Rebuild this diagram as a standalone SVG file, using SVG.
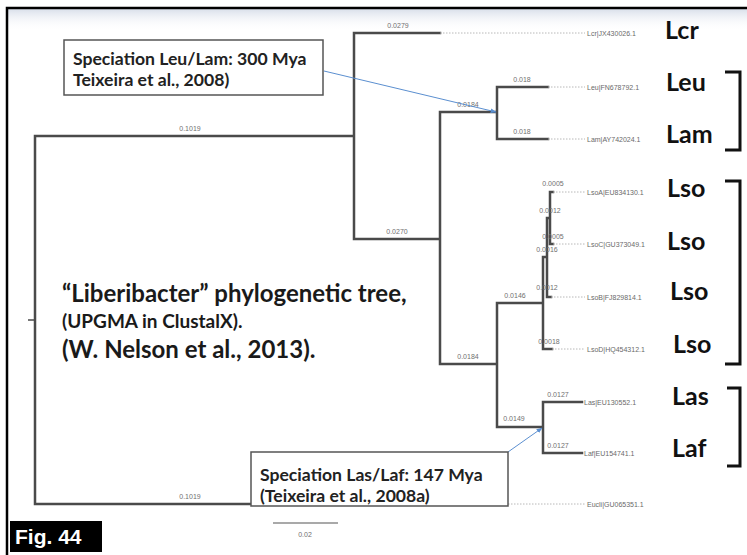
<svg xmlns="http://www.w3.org/2000/svg" width="747" height="555" viewBox="0 0 747 555">
<defs>
<linearGradient id="haze" x1="0" y1="0" x2="0" y2="1">
<stop offset="0" stop-color="#d9dfea"/>
<stop offset="1" stop-color="#ffffff" stop-opacity="0"/>
</linearGradient>
<marker id="arr" viewBox="0 0 10 10" refX="9" refY="5" markerWidth="6" markerHeight="6" orient="auto" markerUnits="userSpaceOnUse">
<path d="M0,1 L10,5 L0,9 z" fill="#5b8fd0"/>
</marker>
<style>
.br{fill:none;stroke:#4a4a4a;stroke-width:2.5;stroke-linecap:square}
.dot{fill:none;stroke:#b8b8b8;stroke-width:1;stroke-dasharray:1.5 1.5}
.bl{font-family:"Liberation Sans",Arial,sans-serif;font-size:7px;fill:#707070;text-anchor:middle}
.lf{font-family:"Liberation Sans",Arial,sans-serif;font-size:7px;fill:#6a6a6a}
.big{font-family:Lato,"Open Sans",sans-serif;font-weight:700;font-size:25px;fill:#111}
.brk{fill:none;stroke:#111;stroke-width:3}
.box{fill:#fff;stroke:#555;stroke-width:1.5}
.ann{font-family:Lato,"Open Sans",sans-serif;font-weight:700;font-size:17.6px;fill:#222}
.ttl{font-family:Lato,"Open Sans",sans-serif;font-weight:700;fill:#1a1a1a}
.ptr{fill:none;stroke:#5b8fd0;stroke-width:1}
</style>
</defs>
<rect x="0" y="0" width="747" height="555" fill="#fff"/>
<rect x="8" y="9" width="740" height="22" fill="url(#haze)"/>
<rect x="7" y="8" width="760" height="560" fill="none" stroke="#000" stroke-width="2.5"/>

<g id="connectors">
<path class="br" d="M35,136 V504 M35,136 H354 M35,504 H352 M354,33 V239 M354,33 H440 M354,239 H440 M440,112 V364 M440,112 H497 M497,87 V139 M497,87 H548 M497,139 H548 M440,364 H497 M497,303 V427 M497,303 H543 M543,257 V349 M543,257 H547 M547,218 V297 M547,297 H551 M547,218 H550 M550,192 V244 M550,192 H553 M550,244 H553 M543,349 H552 M497,427 H543 M543,402 V453 M543,402 H582 M543,453 H582"/>
<path fill="none" stroke="#4a4a4a" stroke-width="1.5" d="M28,320 H35"/>
<path class="dot" d="M440,33 H585 M548,87 H585 M548,139 H585 M553,192 H585 M553,244 H585 M551,297 H585 M552,349 H585 M352,504 H585"/>
<text class="bl" x="190" y="131">0.1019</text>
<text class="bl" x="190" y="499">0.1019</text>
<text class="bl" x="398" y="28">0.0279</text>
<text class="bl" x="397" y="234">0.0270</text>
<text class="bl" x="468" y="107">0.0184</text>
<text class="bl" x="522" y="82">0.018</text>
<text class="bl" x="522" y="134">0.018</text>
<text class="bl" x="468" y="359">0.0184</text>
<text class="bl" x="515" y="298">0.0146</text>
<text class="bl" x="553" y="186">0.0005</text>
<text class="bl" x="550" y="213">0.0012</text>
<text class="bl" x="553" y="239">0.0005</text>
<text class="bl" x="547" y="252">0.0016</text>
<text class="bl" x="547" y="290">0.0012</text>
<text class="bl" x="549" y="344">0.0018</text>
<text class="bl" x="514" y="421">0.0149</text>
<text class="bl" x="558" y="397">0.0127</text>
<text class="bl" x="558" y="448">0.0127</text>
<path class="ptr" d="M324,71 L496,112" marker-end="url(#arr)"/>
<path class="ptr" d="M508,452 L542,428" marker-end="url(#arr)"/>
</g>

<g id="scale">
<path d="M273,523 H338" stroke="#555" stroke-width="1.2"/>
<text class="bl" x="305" y="537">0.02</text>
</g>

<g id="lcr"><text class="lf" x="587" y="35.5">Lcr|JX430026.1</text><text class="big" x="665" y="39">Lcr</text></g>
<g id="leu"><text class="lf" x="587" y="89.5">Leu|FN678792.1</text><text class="big" x="666" y="91">Leu</text></g>
<g id="lam"><text class="lf" x="587" y="141.5">Lam|AY742024.1</text><text class="big" x="666" y="143">Lam</text></g>
<g id="lsoA"><text class="lf" x="587" y="194.5">LsoA|EU834130.1</text><text class="big" x="667" y="197">Lso</text></g>
<g id="lsoC"><text class="lf" x="587" y="246.5">LsoC|GU373049.1</text><text class="big" x="667" y="250">Lso</text></g>
<g id="lsoB"><text class="lf" x="587" y="299.5">LsoB|FJ829814.1</text><text class="big" x="670" y="300">Lso</text></g>
<g id="lsoD"><text class="lf" x="587" y="351.5">LsoD|HQ454312.1</text><text class="big" x="673" y="353">Lso</text></g>
<g id="las"><text class="lf" x="584" y="404.5">Las|EU130552.1</text><text class="big" x="672" y="405">Las</text></g>
<g id="laf"><text class="lf" x="584" y="455.5">Laf|EU154741.1</text><text class="big" x="672" y="457">Laf</text></g>
<g id="eucli"><text class="lf" x="587" y="506.5">Eucli|GU065351.1</text></g>

<g id="brackets">
<path class="brk" d="M725,72 H740 V150 H725"/>
<path class="brk" d="M725,181 H740 V364 H725"/>
<path class="brk" d="M727,388 H740 V466 H727"/>
</g>

<g id="note-leu-lam">
<rect class="box" x="64" y="40" width="259" height="55"/>
<text class="ann" x="73" y="65">Speciation Leu/Lam: 300 Mya</text>
<text class="ann" x="73" y="86">Teixeira et al., 2008)</text>
</g>

<g id="note-las-laf">
<rect class="box" x="251" y="452" width="257" height="54"/>
<text class="ann" x="260" y="481">Speciation Las/Laf: 147 Mya</text>
<text class="ann" x="260" y="502">(Teixeira et al., 2008a)</text>
</g>

<g id="title">
<text class="ttl" x="62" y="302" font-size="24">“Liberibacter” phylogenetic tree,</text>
<text class="ttl" x="62" y="328" font-size="19">(UPGMA in ClustalX).</text>
<text class="ttl" x="62" y="358" font-size="24">(W. Nelson et al., 2013).</text>
</g>

<g id="fig-label">
<rect x="10" y="521" width="92" height="31" fill="#000"/>
<text x="15" y="544" font-family="'Liberation Sans',Arial,sans-serif" font-weight="700" font-size="21" fill="#fff">Fig. 44</text>
</g>
</svg>
